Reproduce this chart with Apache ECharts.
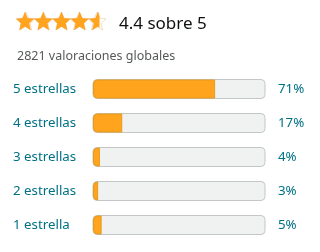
<!DOCTYPE html>
<html>
<head>
<meta charset="utf-8">
<script src="https://cdn.jsdelivr.net/npm/echarts@6/dist/echarts.min.js"></script>
<style>
html, body { margin: 0; padding: 0; background: #fff; }
#main { width: 320px; height: 252px; }
</style>
</head>
<body>
<div id="main"></div>
<script>
var categories = ['5 estrellas', '4 estrellas', '3 estrellas', '2 estrellas', '1 estrella'];
var percents = [71, 17, 4, 3, 5];
var rating = 4.4;
var starsShown = 4.5;
var totalRatings = 2821;

var percentLabels = percents.map(function(v) { return v + '%'; });
var starPath = 'path://M12,1.5 L15.1,8.4 L22.6,9.1 L16.9,14.1 L18.6,21.5 L12,17.6 L5.4,21.5 L7.1,14.1 L1.4,9.1 L8.9,8.4 Z';
var font = 'Noto Sans';

var chart = echarts.init(document.getElementById('main'));
var option = {
	animation: false,
	title: [{
		text: rating + ' sobre 5',
		left: 114,
		top: 11,
		textStyle: {
			fontFamily: font,
			fontSize: 17,
			fontWeight: 'normal',
			color: '#0F1111'
		}
	}, {
		text: totalRatings + ' valoraciones globales',
		left: 12,
		top: 45,
		textStyle: {
			fontFamily: font,
			fontSize: 12.5,
			fontWeight: 'normal',
			color: '#565959'
		}
	}],
	grid: [{
		left: 93,
		right: 55,
		top: 72,
		bottom: 10
	}, {
		left: 14,
		top: 11,
		width: 95,
		height: 20
	}],
	xAxis: [{
		type: 'value',
		min: 0,
		max: 100,
		show: false,
		gridIndex: 0
	}, {
		type: 'value',
		min: 0,
		max: 5,
		show: false,
		gridIndex: 1
	}],
	yAxis: [{
		type: 'category',
		data: categories,
		inverse: true,
		gridIndex: 0,
		axisLine: { show: false },
		axisTick: { show: false },
		axisLabel: {
			align: 'left',
			margin: 80,
			fontFamily: font,
			fontSize: 13.3,
			color: '#007185'
		}
	}, {
		type: 'category',
		data: percentLabels,
		inverse: true,
		position: 'right',
		gridIndex: 0,
		axisLine: { show: false },
		axisTick: { show: false },
		axisLabel: {
			align: 'left',
			margin: 13,
			fontFamily: font,
			fontSize: 13.3,
			color: '#007185'
		}
	}, {
		type: 'category',
		data: ['stars'],
		show: false,
		gridIndex: 1
	}],
	series: [{
		type: 'bar',
		xAxisIndex: 0,
		yAxisIndex: 0,
		data: percents,
		barWidth: 19,
		showBackground: true,
		backgroundStyle: {
			color: '#F0F2F2',
			borderColor: '#C3C7C7',
			borderWidth: 1,
			borderRadius: 4
		},
		itemStyle: {
			color: '#FFA41C',
			borderColor: '#E39A1D',
			borderWidth: 1,
			borderRadius: [4, 0, 0, 4]
		}
	}, {
		// outline stars (path stroke gets scaled down, hence the large width)
		type: 'pictorialBar',
		xAxisIndex: 1,
		yAxisIndex: 2,
		data: [5],
		symbol: starPath,
		symbolRepeat: 5,
		symbolSize: [18, 18],
		symbolBoundingData: 5,
		barWidth: 20,
		barGap: '-100%',
		itemStyle: {
			color: '#FFFFFF',
			borderColor: '#E0851C',
			borderWidth: 6
		},
		z: 2
	}, {
		type: 'pictorialBar',
		xAxisIndex: 1,
		yAxisIndex: 2,
		data: [starsShown],
		symbol: starPath,
		symbolRepeat: 5,
		symbolSize: [18, 18],
		symbolBoundingData: 5,
		symbolClip: true,
		barWidth: 20,
		barGap: '-100%',
		itemStyle: {
			color: '#FFA41C',
			borderColor: '#E0851C',
			borderWidth: 4
		},
		z: 3
	}]
};
chart.setOption(option);
</script>
</body>
</html>
